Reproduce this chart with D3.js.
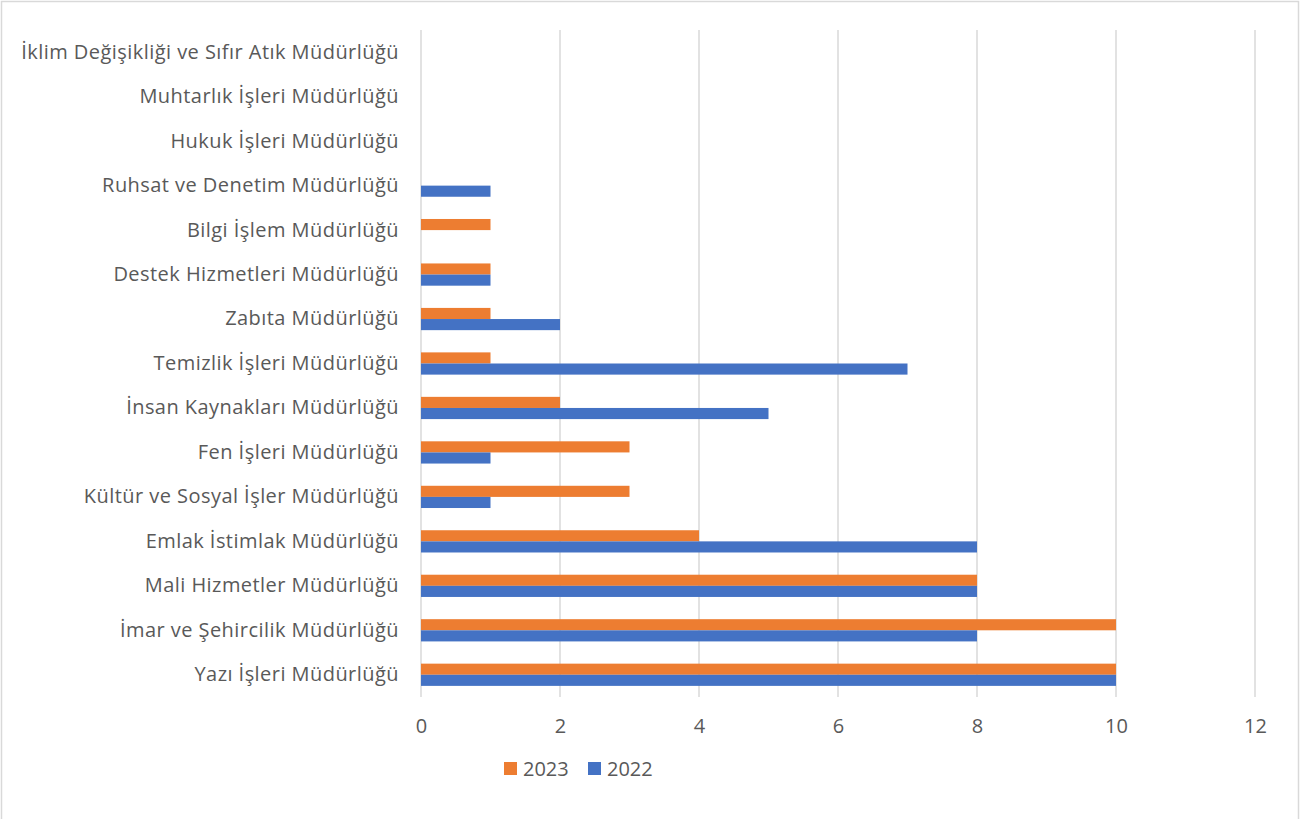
<!DOCTYPE html>
<html lang="tr">
<head>
	<meta charset="UTF-8" />
	<title>Müdürlükler 2022 - 2023</title>
	<script src="https://cdn.jsdelivr.net/npm/d3@7/dist/d3.min.js"></script>
	<style>
		body { margin: 0; background: #fff; }
		text { font-family: "Open Sans", "Noto Sans", sans-serif; fill: #595959; }
	</style>
</head>
<body>
	<svg id="vis" width="1305" height="819"></svg>
	<script>
		// Kategoriler (alttan üste)
		var mudurlukler = [
			"Yazı İşleri Müdürlüğü",
			"İmar ve Şehircilik Müdürlüğü",
			"Mali Hizmetler Müdürlüğü",
			"Emlak İstimlak Müdürlüğü",
			"Kültür ve Sosyal İşler Müdürlüğü",
			"Fen İşleri Müdürlüğü",
			"İnsan Kaynakları Müdürlüğü",
			"Temizlik İşleri Müdürlüğü",
			"Zabıta Müdürlüğü",
			"Destek Hizmetleri Müdürlüğü",
			"Bilgi İşlem Müdürlüğü",
			"Ruhsat ve Denetim Müdürlüğü",
			"Hukuk İşleri Müdürlüğü",
			"Muhtarlık İşleri Müdürlüğü",
			"İklim Değişikliği ve Sıfır Atık Müdürlüğü"
		];
		var degerler2023 = [10, 10, 8, 4, 3, 3, 2, 1, 1, 1, 1, 0, 0, 0, 0];
		var degerler2022 = [10, 8, 8, 8, 1, 1, 5, 7, 2, 1, 0, 1, 0, 0, 0];
		var seriler = ["2023", "2022"];
		var xTicks = [0, 2, 4, 6, 8, 10, 12];

		var renkler = d3.scaleOrdinal().domain(seriler).range(["#ED7D31", "#4472C4"]);

		var svg = d3.select("#vis");

		// Çerçeve
		svg.append("rect")
			.attr("x", 1.5).attr("y", 1.5)
			.attr("width", 1297).attr("height", 830)
			.attr("fill", "none")
			.attr("stroke", "#d9d9d9")
			.attr("stroke-width", 1.5);

		var scaleX = d3.scaleLinear().domain([0, 12]).range([421, 1255]);
		var scaleY = d3.scaleBand()
			.domain(mudurlukler.slice().reverse())
			.range([30, 697]);
		var bw = scaleY.bandwidth();
		var scaleSeri = d3.scaleBand().domain(seriler).range([bw * 0.25, bw * 0.75]);

		// Izgara çizgileri
		svg.append("g")
			.selectAll("line")
			.data(xTicks)
			.join("line")
			.attr("x1", function(d) { return scaleX(d); })
			.attr("x2", function(d) { return scaleX(d); })
			.attr("y1", 30).attr("y2", 697)
			.attr("stroke", "#d9d9d9")
			.attr("stroke-width", 1.5);

		// X ekseni
		var gx = svg.append("g")
			.attr("transform", "translate(0,697)")
			.call(d3.axisBottom(scaleX).tickValues(xTicks).tickSize(0).tickPadding(22));
		gx.select(".domain").remove();
		gx.selectAll("text").attr("font-size", 20).attr("fill", "#595959")
			.style("font-family", "'Open Sans', sans-serif");

		// Y ekseni
		var gy = svg.append("g")
			.attr("transform", "translate(421,0)")
			.call(d3.axisLeft(scaleY).tickSize(0).tickPadding(22));
		gy.select(".domain").remove();
		gy.selectAll("text").attr("font-size", 20).attr("fill", "#595959")
			.attr("letter-spacing", 0.45)
			.style("font-family", "'Open Sans', sans-serif");

		// Çubuklar
		var gBar = svg.append("g");
		for (var i = 0; i < mudurlukler.length; i++) {
			var vals = { "2023": degerler2023[i], "2022": degerler2022[i] };
			seriler.forEach(function(s) {
				if (vals[s] > 0) {
					gBar.append("rect")
						.attr("x", scaleX(0))
						.attr("y", scaleY(mudurlukler[i]) + scaleSeri(s))
						.attr("width", scaleX(vals[s]) - scaleX(0))
						.attr("height", scaleSeri.bandwidth())
						.attr("fill", renkler(s));
				}
			});
		}

		// Gösterge
		var legendX = [504, 588];
		var gLeg = svg.append("g");
		seriler.forEach(function(s, k) {
			gLeg.append("rect")
				.attr("x", legendX[k]).attr("y", 762)
				.attr("width", 13).attr("height", 13)
				.attr("fill", renkler(s));
			gLeg.append("text")
				.attr("x", legendX[k] + 19).attr("y", 768.5)
				.attr("dy", "0.35em")
				.attr("font-size", 20)
				.text(s);
		});
	</script>
</body>
</html>
